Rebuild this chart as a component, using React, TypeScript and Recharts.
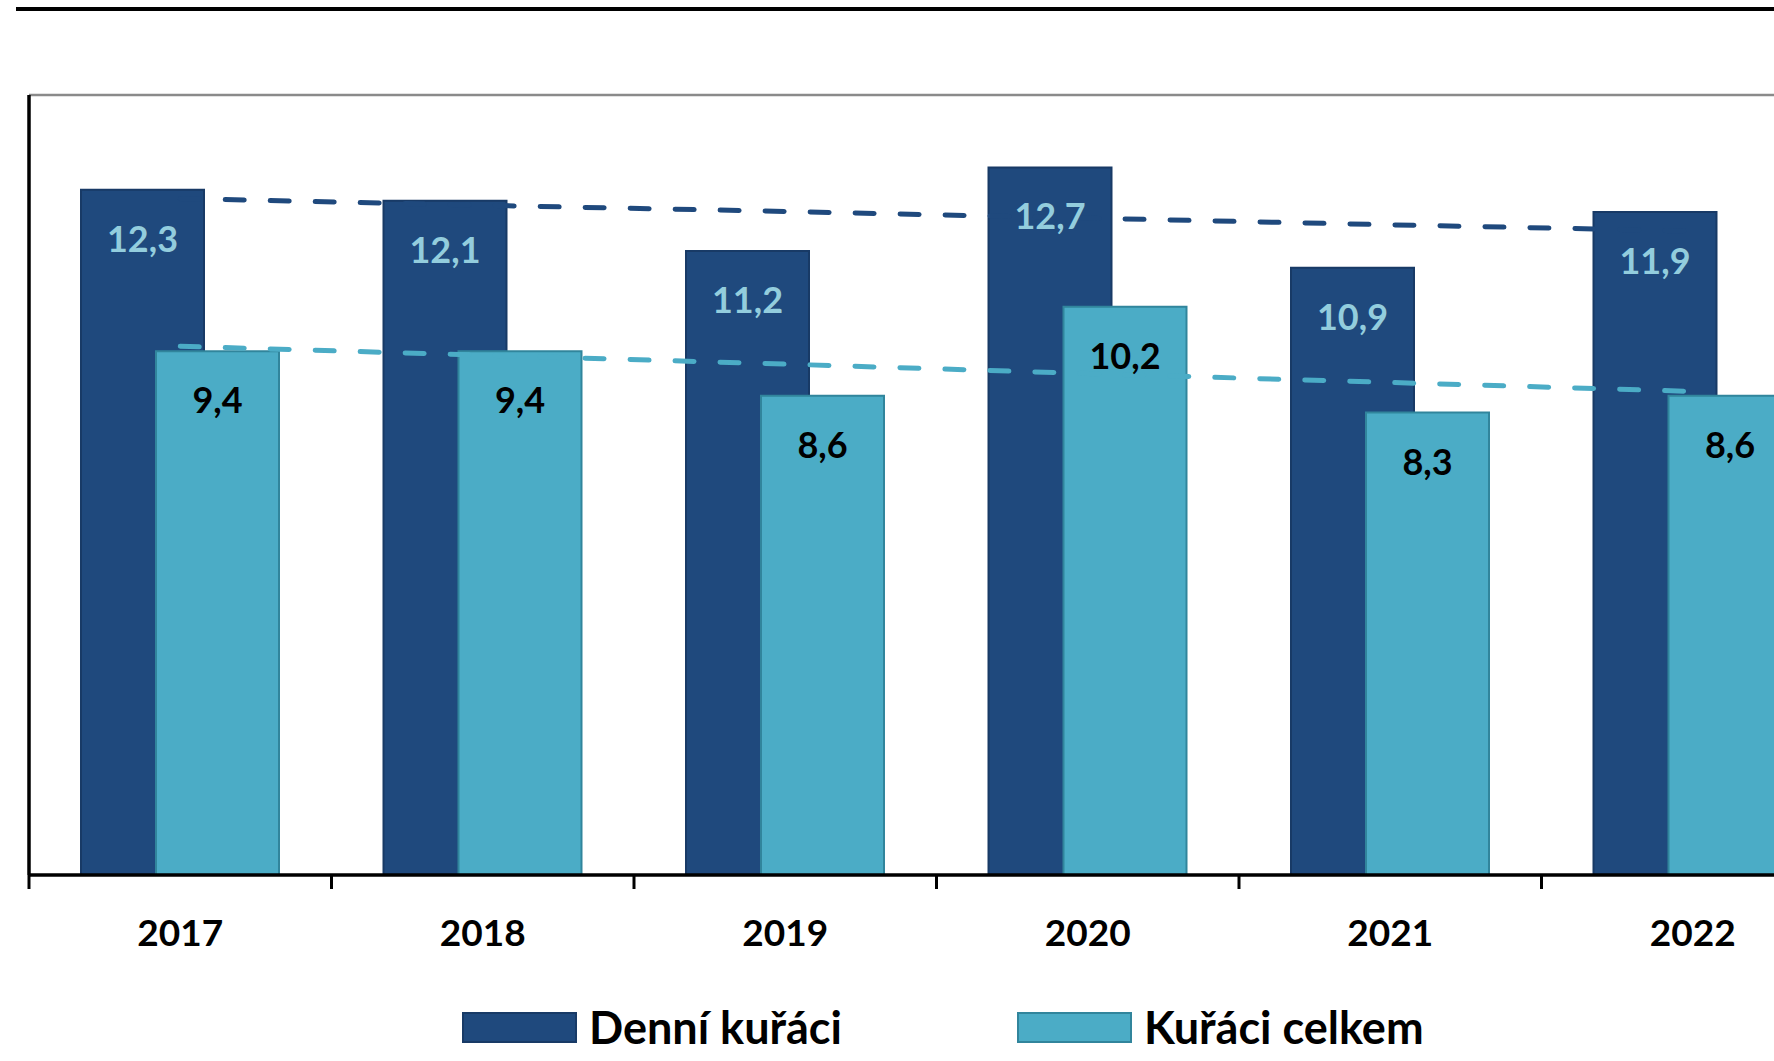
import * as React from "react";
import {
  ComposedChart,
  Bar,
  Line,
  XAxis,
  YAxis,
  Legend,
  LabelList,
  ReferenceLine,
} from "recharts";

const years = ["2017", "2018", "2019", "2020", "2021", "2022"];
const dailySmokers = [12.3, 12.1, 11.2, 12.7, 10.9, 11.9];
const allSmokers = [9.4, 9.4, 8.6, 10.2, 8.3, 8.6];
// linear trend lines
const dailyTrend = [12.14, 12.02, 11.91, 11.79, 11.67, 11.56];
const allTrend = [9.49, 9.33, 9.17, 9.0, 8.84, 8.68];
const yTicks = [0, 2, 4, 6, 8, 10, 12, 14];

const seriesNames = ["Denní kuřáci", "Kuřáci celkem"];

const DARK = "#1F497D";
const DARK_EDGE = "#183a66";
const LIGHT = "#4BACC6";
const LIGHT_EDGE = "#31859C";
const FONT = "Lato, 'Open Sans', sans-serif";

const data = years.map((year, i) => ({
  year,
  daily: dailySmokers[i],
  all: allSmokers[i],
  dailyTrend: dailyTrend[i],
  allTrend: allTrend[i],
}));

const fmt = (v: number) => v.toFixed(1).replace(".", ",");

function YearTick(props: any) {
  const { x, y, payload } = props;
  const half = payload.offset ?? 0;
  return (
    <g>
      <line x1={x - half} x2={x - half} y1={y} y2={y + 14} stroke="#000" strokeWidth={3} />
      <text x={x} y={y + 71} textAnchor="middle" fontFamily={FONT} fontWeight={700} fontSize={37} fill="#000">
        {payload.value}
      </text>
    </g>
  );
}

function makeLabel(color: string) {
  return (props: any) => {
    const { x, y, width, value } = props;
    return (
      <text x={x + width / 2} y={y + 62} textAnchor="middle" fontFamily={FONT} fontWeight={700} fontSize={36} fill={color}>
        {fmt(value)}
      </text>
    );
  };
}

function LegendContent() {
  const items = [
    { name: seriesNames[0], fill: DARK, edge: DARK_EDGE, left: 462 },
    { name: seriesNames[1], fill: LIGHT, edge: LIGHT_EDGE, left: 1017 },
  ];
  return (
    <div style={{ position: "relative", height: 51 }}>
      {items.map((it) => (
        <div key={it.name} style={{ position: "absolute", left: it.left, top: -3, height: 40, display: "flex", alignItems: "center" }}>
          <div style={{ width: 111, height: 27, background: it.fill, border: `2px solid ${it.edge}` }} />
          <span style={{ marginLeft: 12, fontFamily: FONT, fontWeight: 700, fontSize: 45, color: "#000", lineHeight: "40px", whiteSpace: "nowrap" }}>
            {it.name}
          </span>
        </div>
      ))}
    </div>
  );
}

export default function App() {
  return (
    <div style={{ position: "fixed", left: 0, top: 0, width: 1774, height: 1061, overflow: "hidden", background: "#fff" }}>
      <div style={{ position: "absolute", left: 16, right: 0, top: 7, height: 4, background: "#000" }} />
      <ComposedChart
        width={1844}
        height={1061}
        data={data}
        margin={{ top: 95, right: 0, left: 0, bottom: 0 }}
        barGap={-48}
        barSize={123}
      >
        <ReferenceLine y={14} stroke="#8a8a8a" strokeWidth={2.5} />
        <XAxis
          dataKey="year"
          height={135}
          tickLine={false}
          tickSize={0}
          tickMargin={0}
          axisLine={{ stroke: "#000", strokeWidth: 3.5 }}
          tick={<YearTick />}
          interval={0}
        />
        <YAxis
          width={29}
          domain={[0, 14]}
          ticks={yTicks}
          tick={false}
          tickSize={13}
          tickLine={{ stroke: "#000", strokeWidth: 3.5 }}
          axisLine={{ stroke: "#000", strokeWidth: 3.5 }}
        />
        <Bar dataKey="daily" name={seriesNames[0]} fill={DARK} stroke={DARK_EDGE} strokeWidth={2} isAnimationActive={false}>
          <LabelList dataKey="daily" content={makeLabel("#93CDDD")} />
        </Bar>
        <Bar dataKey="all" name={seriesNames[1]} fill={LIGHT} stroke={LIGHT_EDGE} strokeWidth={2} isAnimationActive={false}>
          <LabelList dataKey="all" content={makeLabel("#000")} />
        </Bar>
        <Line
          dataKey="dailyTrend"
          type="linear"
          stroke={DARK}
          strokeWidth={5}
          strokeDasharray="19 26"
          strokeLinecap="round"
          dot={false}
          legendType="none"
          isAnimationActive={false}
        />
        <Line
          dataKey="allTrend"
          type="linear"
          stroke={LIGHT}
          strokeWidth={5}
          strokeDasharray="19 26"
          strokeLinecap="round"
          dot={false}
          legendType="none"
          isAnimationActive={false}
        />
        <Legend verticalAlign="bottom" content={<LegendContent />} wrapperStyle={{ left: 0, width: 1844, bottom: 0 }} />
      </ComposedChart>
    </div>
  );
}
